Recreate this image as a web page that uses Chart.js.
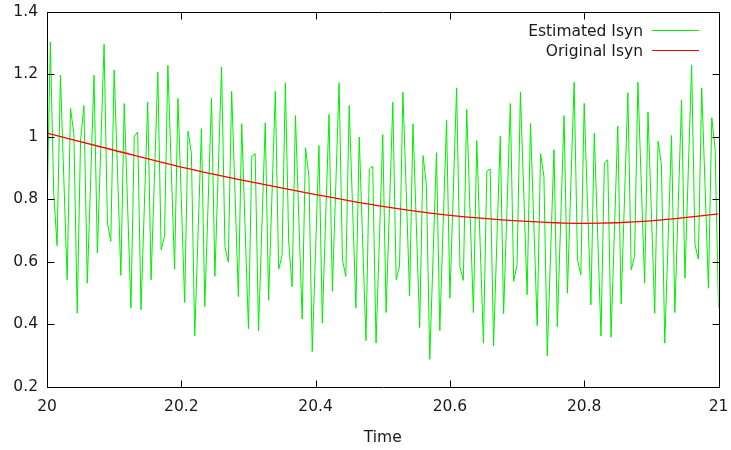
<!DOCTYPE html>
<html>
<head>
<meta charset="utf-8">
<script src="https://cdn.jsdelivr.net/npm/chart.js@4/dist/chart.umd.min.js"></script>
<style>
  html, body { margin: 0; padding: 0; background: #ffffff; }
  canvas { display: block; }
</style>
</head>
<body>
<canvas id="c" width="731" height="450"></canvas>
<script>
// ---- data ----
const sampleStart = 20;
const sampleStep = 0.005;
const estimatedIsyn = [
  0.76, 1.304, 0.82, 0.651, 1.198, 0.87, 0.542, 1.091, 1.01, 0.435,
  0.99, 1.10, 0.531, 0.86, 1.197, 0.628, 0.96, 1.296, 0.724, 0.665,
  1.214, 0.89, 0.556, 1.107, 0.78, 0.451, 1.002, 1.015, 0.446, 0.78,
  1.111, 0.542, 0.87, 1.207, 0.638, 0.681, 1.229, 0.90, 0.576, 1.123,
  0.80, 0.469, 1.018, 0.949, 0.362, 0.69, 1.026, 0.456, 0.79, 1.123,
  0.553, 0.89, 1.224, 0.649, 0.598, 1.146, 0.82, 0.488, 1.042, 0.71,
  0.385, 0.938, 0.946, 0.378, 0.71, 1.045, 0.476, 0.81, 1.146, 0.576,
  0.619, 1.173, 0.66, 0.520, 1.068, 0.74, 0.416, 0.965, 0.874, 0.312,
  0.64, 0.972, 0.403, 0.74, 1.072, 0.505, 0.84, 1.173, 0.606, 0.553,
  1.100, 0.78, 0.451, 0.999, 0.67, 0.347, 0.897, 0.906, 0.339, 0.67,
  1.007, 0.437, 0.77, 1.111, 0.542, 0.585, 1.143, 0.82, 0.491, 1.042,
  0.72, 0.389, 0.940, 0.847, 0.287, 0.62, 0.949, 0.379, 0.72, 1.053,
  0.483, 0.82, 1.157, 0.583, 0.540, 1.088, 0.76, 0.437, 0.988, 0.66,
  0.339, 0.890, 0.897, 0.330, 0.67, 1.002, 0.433, 0.77, 1.107, 0.537,
  0.590, 1.143, 0.82, 0.494, 1.043, 0.72, 0.395, 0.946, 0.874, 0.298,
  0.63, 0.959, 0.392, 0.73, 1.068, 0.499, 0.84, 1.175, 0.606, 0.558,
  1.107, 0.78, 0.462, 1.012, 0.69, 0.362, 0.916, 0.927, 0.358, 0.70,
  1.034, 0.465, 0.80, 1.141, 0.574, 0.617, 1.175, 0.85, 0.531, 1.079,
  0.76, 0.435, 0.986, 0.911, 0.339, 0.67, 1.004, 0.437, 0.78, 1.117,
  0.547, 0.89, 1.229, 0.654, 0.608, 1.157, 0.84, 0.515, 1.061, 0.96,
  0.45
];
const originalTimes = [20.0, 20.1, 20.2, 20.3, 20.4, 20.5, 20.6, 20.7, 20.8, 20.9, 21.0];
const originalIsyn  = [1.012, 0.957, 0.903, 0.857, 0.815, 0.777, 0.748, 0.731, 0.723, 0.731, 0.753];
const xTickValues = [20, 20.2, 20.4, 20.6, 20.8, 21];
const yTickValues = [0.2, 0.4, 0.6, 0.8, 1, 1.2, 1.4];
const xTickLabels = ['20', '20.2', '20.4', '20.6', '20.8', '21'];
const yTickLabels = ['0.2', '0.4', '0.6', '0.8', '1', '1.2', '1.4'];
const seriesNames = ['Estimated Isyn', 'Original Isyn'];
const xTitle = 'Time';

// ---- build library structures ----
const estimatedPoints = estimatedIsyn.map((v, i) => ({ x: sampleStart + i * sampleStep, y: v }));
const originalPoints = originalIsyn.map((v, i) => ({ x: originalTimes[i], y: v }));

const FONT = { family: 'DejaVu Sans', size: 15.5 };
const TEXT = '#1a1a1a';

const framePlugin = {
  id: 'frame',
  afterDatasetsDraw(chart) {
    const { ctx, chartArea: a, scales } = chart;
    ctx.save();
    ctx.strokeStyle = '#000000';
    ctx.lineWidth = 1;
    const L = Math.round(a.left) + 0.5, R = Math.round(a.right) + 0.5;
    const T = Math.round(a.top) + 0.5, B = Math.round(a.bottom) + 0.5;
    ctx.beginPath();
    ctx.rect(L, T, R - L, B - T);
    ctx.stroke();
    const tl = 7;
    ctx.beginPath();
    scales.y.ticks.forEach(t => {
      const y = Math.round(scales.y.getPixelForValue(t.value)) + 0.5;
      ctx.moveTo(L, y); ctx.lineTo(L + tl, y);
      ctx.moveTo(R, y); ctx.lineTo(R - tl, y);
    });
    scales.x.ticks.forEach(t => {
      const x = Math.round(scales.x.getPixelForValue(t.value)) + 0.5;
      ctx.moveTo(x, B); ctx.lineTo(x, B - tl);
      ctx.moveTo(x, T); ctx.lineTo(x, T + tl);
    });
    ctx.stroke();

    // gnuplot-style key, top right
    ctx.font = FONT.size + 'px ' + FONT.family;
    ctx.fillStyle = TEXT;
    ctx.textAlign = 'right';
    ctx.textBaseline = 'middle';
    const ds = chart.data.datasets;
    const rows = [ds.find(d => d.label === seriesNames[0]), ds.find(d => d.label === seriesNames[1])];
    rows.forEach((d, i) => {
      const y = 30.5 + i * 20;
      ctx.fillText(d.label, 643, y + 1);
      ctx.beginPath();
      ctx.strokeStyle = d.borderColor;
      ctx.lineWidth = 1;
      ctx.moveTo(652, y); ctx.lineTo(699, y);
      ctx.stroke();
    });
    ctx.restore();
  }
};

new Chart(document.getElementById('c'), {
  type: 'line',
  data: {
    datasets: [
      {
        label: seriesNames[1],
        data: originalPoints,
        borderColor: '#ff0000',
        borderWidth: 1.3,
        pointRadius: 0,
        cubicInterpolationMode: 'monotone',
        fill: false,
        order: 1
      },
      {
        label: seriesNames[0],
        data: estimatedPoints,
        borderColor: '#00ee00',
        borderWidth: 1,
        pointRadius: 0,
        tension: 0,
        fill: false,
        order: 2
      }
    ]
  },
  options: {
    responsive: false,
    animation: false,
    events: [],
    layout: { padding: { left: 0, right: 12.5, top: 12, bottom: 0 } },
    plugins: { legend: { display: false }, tooltip: { enabled: false } },
    scales: {
      x: {
        type: 'linear',
        min: 20, max: 21,
        afterBuildTicks: s => { s.ticks = xTickValues.map(v => ({ value: v })); },
        afterFit: s => { s.height = 63.5; s.paddingLeft = 0; s.paddingRight = 0; },
        grid: { display: false, drawTicks: false },
        border: { display: false },
        ticks: {
          font: FONT, color: TEXT, padding: 11, maxRotation: 0, autoSkip: false,
          callback: (v) => { const i = xTickValues.findIndex(t => Math.abs(t - v) < 1e-9); return i >= 0 ? xTickLabels[i] : ''; }
        },
        title: { display: true, text: xTitle, font: FONT, color: TEXT, padding: { top: 6, bottom: 3 } }
      },
      y: {
        type: 'linear',
        min: 0.2, max: 1.4,
        afterBuildTicks: s => { s.ticks = yTickValues.map(v => ({ value: v })); },
        afterFit: s => { s.width = 47; s.paddingTop = 0; s.paddingBottom = 0; },
        grid: { display: false, drawTicks: false },
        border: { display: false },
        ticks: {
          font: FONT, color: TEXT, padding: 9,
          callback: (v) => { const i = yTickValues.findIndex(t => Math.abs(t - v) < 1e-9); return i >= 0 ? yTickLabels[i] : ''; }
        }
      }
    }
  },
  plugins: [framePlugin]
});
</script>
</body>
</html>
